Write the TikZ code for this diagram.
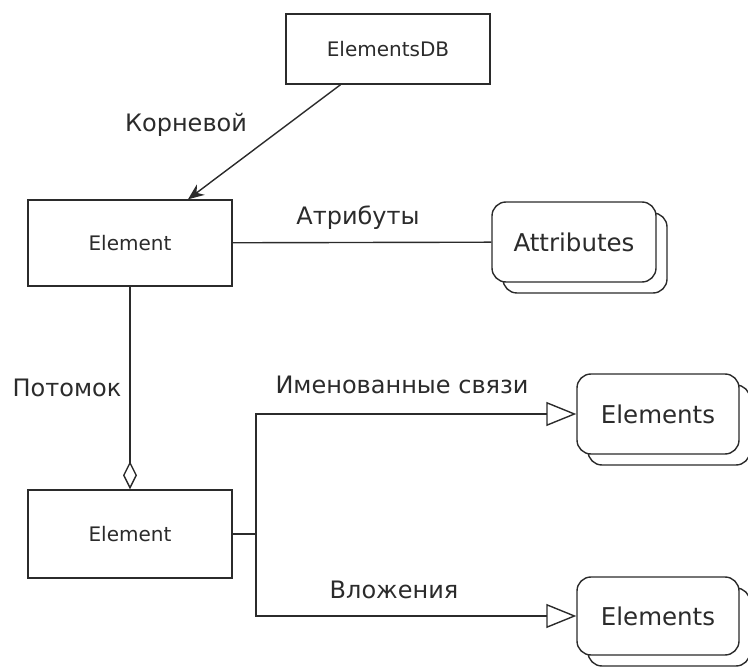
\documentclass[tikz,border=0pt]{standalone}
\usepackage{fontspec}
\setmainfont{DejaVu Sans}
\usetikzlibrary{arrows.meta,positioning,shadows}
\definecolor{ink}{HTML}{2B2B2B}
\tikzset{box/.style={draw=ink,line width=1.4pt,fill=white,minimum width=204pt,inner sep=0pt,text=ink,font=\fontsize{20}{24}\selectfont}, multi/.style={draw=ink,line width=1.4pt,fill=white,rounded corners=14pt,minimum width=162pt,minimum height=80pt,inner sep=0pt,text=ink,font=\fontsize{24.5}{29}\selectfont,copy shadow={shadow xshift=11pt,shadow yshift=-11pt,draw=ink,fill=white,line width=1.4pt}}, lbl/.style={font=\fontsize{24}{28}\selectfont,text=ink}, link/.style={draw=ink,line width=1.4pt}, root/.style={link,-{Stealth[length=16pt,width=13pt]}}, part/.style={link,-{Diamond[open,length=28pt,width=14pt]}}, gen/.style={link,-{Triangle[open,length=30pt,width=24pt]}}}

\begin{document}
\begin{tikzpicture}[x=1pt,y=-1pt]
\useasboundingbox (0,0) rectangle (748,668);
\node[box,minimum height=70pt] (db) at (388,49) {ElementsDB};
\node[box,minimum height=86pt] (el) at (130,243) {Element};
\node[box,minimum height=88pt] (ch) at (130,534) {Element};
\node[multi,minimum width=164pt] (attr) at (574,242) {Attributes};
\node[multi] (named) at (658,414) {Elements};
\node[multi,minimum height=78pt] (nest) at (658,616) {Elements};
\coordinate (fork) at (256,534);
\node[lbl] (l1) at (186,125) {Корневой};
\node[lbl] (l2) at (358,218) {Атрибуты};
\node[lbl] (l3) at (67,388) {Потомок};
\node[lbl] (l4) at (402,385) {Именованные связи};
\node[lbl] (l5) at (394,590) {Вложения};
\draw[root] (db)--(el);
\draw[link] (el)--(attr);
\draw[part] (el)--(ch);
\draw[link] (ch)--(fork);
\draw[gen] (fork)|-(named);
\draw[gen] (fork)|-(nest);
\end{tikzpicture}
\end{document}
